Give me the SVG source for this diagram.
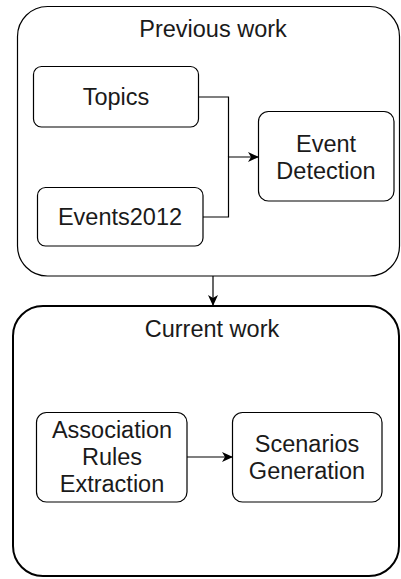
<svg xmlns="http://www.w3.org/2000/svg" width="401" height="579" viewBox="0 0 401 579">
<defs>
<style>
.box{fill:#fff;stroke:#000;stroke-width:1.2}
.outer{fill:#fff;stroke:#000;stroke-width:1.2}
.outer2{fill:#fff;stroke:#000;stroke-width:2}
text{font-family:"Liberation Sans",Arial,sans-serif;font-size:23.5px;fill:#1a1a1a;text-anchor:middle}
.conn{fill:none;stroke:#000;stroke-width:1.2}
</style>
<marker id="arr" markerWidth="12" markerHeight="10" refX="10" refY="5" orient="auto" markerUnits="userSpaceOnUse">
<path d="M0,0 L11,5 L0,10 L3,5 Z" fill="#000"/>
</marker>
</defs>
<g id="previous-work">
<rect class="outer" x="17.5" y="6.5" width="382" height="269.5" rx="30"/>
<text x="213" y="37">Previous work</text>
</g>
<g id="current-work">
<rect class="outer2" x="13" y="306" width="386" height="270" rx="30"/>
<text x="212" y="337">Current work</text>
</g>
<g id="topics">
<rect class="box" x="33.5" y="66.5" width="165" height="60.5" rx="8"/>
<text x="116" y="105">Topics</text>
</g>
<g id="events2012">
<rect class="box" x="37.5" y="187.5" width="165.5" height="58.5" rx="8"/>
<text x="120" y="225">Events2012</text>
</g>
<g id="event-detection">
<rect class="box" x="258.5" y="111.5" width="135.5" height="89.5" rx="10"/>
<text x="326" y="152">Event</text>
<text x="326" y="179">Detection</text>
</g>
<g id="association-rules">
<rect class="box" x="36.5" y="412.5" width="150.5" height="89.5" rx="10"/>
<text x="112" y="438">Association</text>
<text x="112" y="465">Rules</text>
<text x="112" y="492">Extraction</text>
</g>
<g id="scenarios-generation">
<rect class="box" x="232.5" y="412.5" width="149.5" height="89.5" rx="10"/>
<text x="307" y="452">Scenarios</text>
<text x="307" y="479">Generation</text>
</g>
<g id="connectors">
<path class="conn" d="M198.5,97 H228.5 V157"/>
<path class="conn" d="M203,217 H228.5 V157 H258" marker-end="url(#arr)"/>
<path class="conn" d="M213,276 V305" marker-end="url(#arr)"/>
<path class="conn" d="M187,457 H232" marker-end="url(#arr)"/>
</g>
</svg>
